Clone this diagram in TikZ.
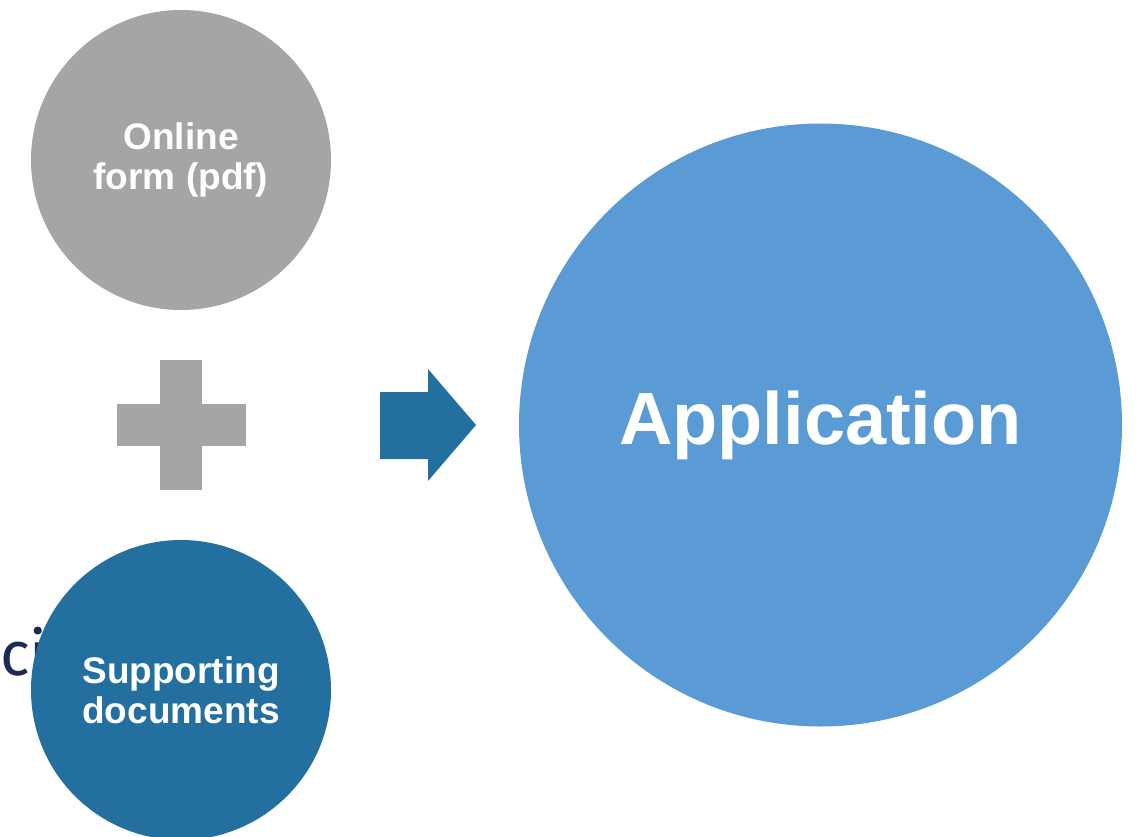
\documentclass[tikz,border=0pt]{standalone}
\usepackage{fontspec}
\setmainfont{Liberation Sans}
\newfontfamily\hintfont{Fira Sans}
\definecolor{formgray}{HTML}{A5A5A5}
\definecolor{docblue}{HTML}{236FA0}
\definecolor{appblue}{HTML}{5B9BD5}
\definecolor{hintnavy}{HTML}{1C2A57}
\begin{document}
\begin{tikzpicture}[x=1pt,y=-1pt,main node/.style={circle,inner sep=0pt,align=center,text=white,font=\bfseries}]
                    \useasboundingbox (0,0) rectangle (1138,837);
                    \clip (0,0) rectangle (1138,837);

                    \node[anchor=base west,inner sep=0pt,text=hintnavy,font=\hintfont\fontsize{62}{62}\selectfont] (hint) at (0,675) {ci};

                    \node[main node,fill=formgray,minimum size=300pt,font=\bfseries\fontsize{37}{40}\selectfont] (form) at (181,160) {Online\\form (pdf)};
                    \node[main node,fill=docblue,minimum size=300pt,font=\bfseries\fontsize{37}{40}\selectfont] (docs) at (181,690) {Supporting\\documents};
                    \node[main node,fill=appblue,minimum size=603pt,font=\bfseries\fontsize{74}{90}\selectfont] (app) at (820.5,425) {Application};

                    % plus sign
                    \fill[formgray] (117,404) rectangle (246,446);
                    \fill[formgray] (160,360) rectangle (202,490);

                    % arrow
                    \fill[docblue] (380,392) -- (428,392) -- (428,369) -- (476,425) -- (428,481) -- (428,459) -- (380,459) -- cycle;
                \end{tikzpicture}
\end{document}
